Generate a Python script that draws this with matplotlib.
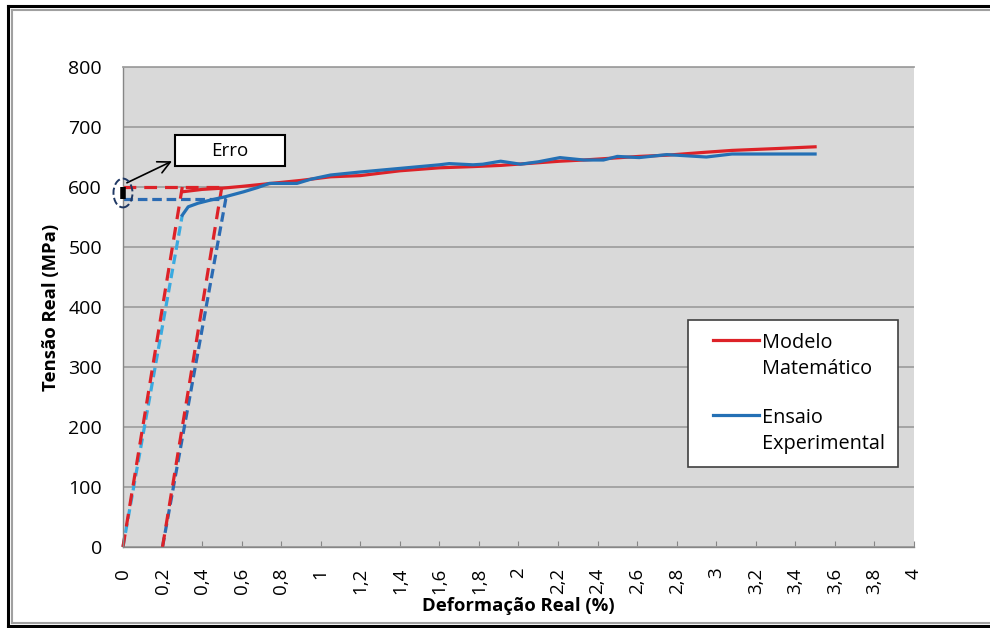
import matplotlib
matplotlib.use("Agg")
import matplotlib.pyplot as plt
from matplotlib.lines import Line2D
from matplotlib.patches import Ellipse, Rectangle
from matplotlib.legend_handler import HandlerLine2D

plt.rcParams['font.family'] = ['Open Sans', 'DejaVu Sans']

# curva do modelo matematico (trecho plastico)
modelo_x = [0.30, 0.40, 0.50, 0.60, 0.75, 0.90, 1.05, 1.20, 1.40, 1.60, 1.77,
            1.91, 2.21, 2.33, 2.61, 2.75, 2.95, 3.08, 3.30, 3.50]
modelo_y = [592, 596, 598, 601, 606, 611, 617, 619, 627, 632, 634,
            636, 643, 645, 651, 653, 658, 661, 664, 667]

# ensaio experimental
ensaio_x = [0.30, 0.33, 0.38, 0.44, 0.52, 0.61, 0.68, 0.74, 0.80, 0.88, 0.95,
            1.05, 1.20, 1.40, 1.60, 1.65, 1.77, 1.82, 1.91, 2.01, 2.10, 2.21,
            2.33, 2.43, 2.50, 2.61, 2.75, 2.85, 2.95, 3.08, 3.20, 3.50]
ensaio_y = [553, 567, 573, 578, 584, 592, 599, 606, 606, 606, 613,
            620, 625, 631, 637, 639, 637, 638, 643, 638, 642, 649,
            645, 645, 651, 649, 654, 652, 650, 655, 655, 655]

# retas auxiliares (tracejadas)
mod_elast1_x, mod_elast1_y = [0, 0.30], [0, 600]
mod_elast2_x, mod_elast2_y = [0.20, 0.50], [0, 600]
mod_horiz_x, mod_horiz_y = [0, 0.50], [600, 600]
ens_elast1_x, ens_elast1_y = [0, 0.30], [0, 553]
ens_elast2_x, ens_elast2_y = [0.20, 0.52], [0, 580]
ens_horiz_x, ens_horiz_y = [0, 0.52], [580, 580]

erro_y = [580, 600]

xticks = [i * 0.2 for i in range(21)]
xlabels = ['0', '0,2', '0,4', '0,6', '0,8', '1', '1,2', '1,4', '1,6', '1,8', '2',
           '2,2', '2,4', '2,6', '2,8', '3', '3,2', '3,4', '3,6', '3,8', '4']
yticks = [0, 100, 200, 300, 400, 500, 600, 700, 800]

vermelho = '#DD2228'
azul = '#2470B5'
azul_claro = '#3AAAE0'
azul_esc = '#2B6BB3'

fig = plt.figure(figsize=(9.9, 6.28), dpi=100)
ax = fig.add_axes([0.1242, 0.129, 0.799, 0.7643])
ax.set_facecolor('#D9D9D9')

# tracejados
ax.plot(ens_elast1_x, ens_elast1_y, color=azul_claro, lw=2.3, ls=(0, (3, 1.5)), clip_on=False)
ax.plot(ens_elast2_x, ens_elast2_y, color=azul_esc, lw=2.3, ls=(0, (3, 1.5)), clip_on=False)
ax.plot(ens_horiz_x, ens_horiz_y, color=azul_esc, lw=2.3, ls=(0, (3, 1.5)), clip_on=False)
ax.plot(mod_elast1_x, mod_elast1_y, color=vermelho, lw=2.3, ls=(0, (4, 2.5)), clip_on=False)
ax.plot(mod_elast2_x, mod_elast2_y, color=vermelho, lw=2.3, ls=(0, (4, 2.5)), clip_on=False)
ax.plot(mod_horiz_x, mod_horiz_y, color=vermelho, lw=2.3, ls=(0, (4, 2.5)), clip_on=False)

# curvas
ax.plot(modelo_x, modelo_y, color=vermelho, lw=2.3, label='Modelo\nMatemático')
ax.plot(ensaio_x, ensaio_y, color=azul, lw=2.3, label='Ensaio\nExperimental')

# destaque do erro
ax.plot([0, 0], erro_y, color='black', lw=4, solid_capstyle='butt', clip_on=False, zorder=5)
ax.add_patch(Ellipse((0, sum(erro_y) / 2), width=0.096, height=48, fill=False,
                     ls='--', ec='#1F3864', lw=1.4, clip_on=False, zorder=5))
ax.annotate('', xy=(0.248, 643), xytext=(0.02, 607),
            arrowprops=dict(arrowstyle='->', color='black', lw=1.2, mutation_scale=22,
                            shrinkA=0, shrinkB=0))
ax.add_patch(Rectangle((0.263, 635), 0.556, 52, fc='white', ec='black', lw=1.5, zorder=6))
ax.text(0.541, 660, 'Erro', ha='center', va='center', fontsize=13.5, zorder=7)

ax.set_xlim(0, 4)
ax.set_ylim(0, 800)
ax.set_xticks(xticks)
ax.set_xticklabels(xlabels, rotation=90, fontsize=13.5)
ax.set_yticks(yticks)
ax.tick_params(axis='y', length=0, pad=15, labelsize=14)
ax.tick_params(axis='x', direction='in', length=4, color='#868686', pad=15)

ax.grid(axis='y', color='#A0A0A0', lw=1.3)
ax.set_axisbelow(True)
for s in ['left', 'bottom']:
    ax.spines[s].set_color('#868686')
    ax.spines[s].set_linewidth(1.0)
ax.spines['top'].set_color('#A0A0A0')
ax.spines['top'].set_linewidth(1.3)
ax.spines['right'].set_visible(False)

ax.set_xlabel('Deformação Real (%)', fontsize=13.3, fontweight='bold')
ax.set_ylabel('Tensão Real (MPa)', fontsize=13.3, fontweight='bold')
ax.xaxis.set_label_coords(0.5, -0.105)
ax.yaxis.set_label_coords(-0.08, 0.5)

fs_leg = 14.3
leg = ax.legend(loc='upper left', bbox_to_anchor=(0.714, 0.473), fontsize=fs_leg,
                frameon=True, fancybox=False, edgecolor='#404040', framealpha=1,
                handlelength=2.95, handletextpad=0.15, labelspacing=1.45,
                borderpad=0.65, borderaxespad=0,
                handler_map={Line2D: HandlerLine2D(xpad=0.6)})
leg.get_frame().set_linewidth(1.2)
for t in leg.get_texts():
    t.set_linespacing(1.4)
for col in leg._legend_handle_box.get_children():
    for hp in col.get_children():
        hp.align = 'top'

# moldura da figura
fig.add_artist(Line2D([0.0081, 1], [0.9904, 0.9904], color='black', lw=2.2, transform=fig.transFigure))
fig.add_artist(Line2D([0.0121, 1], [0.984, 0.984], color='#A0A0A0', lw=1.5, transform=fig.transFigure))
fig.add_artist(Line2D([0.0081, 0.0081], [0.0032, 0.9904], color='black', lw=2.2, transform=fig.transFigure))
fig.add_artist(Line2D([0.0121, 0.0121], [0.008, 0.984], color='#A0A0A0', lw=1.5, transform=fig.transFigure))
fig.add_artist(Line2D([0.0081, 1], [0.0032, 0.0032], color='black', lw=2.2, transform=fig.transFigure))
fig.add_artist(Line2D([0.0121, 1], [0.008, 0.008], color='#A0A0A0', lw=1.5, transform=fig.transFigure))

fig.savefig('out.png', dpi=100)
